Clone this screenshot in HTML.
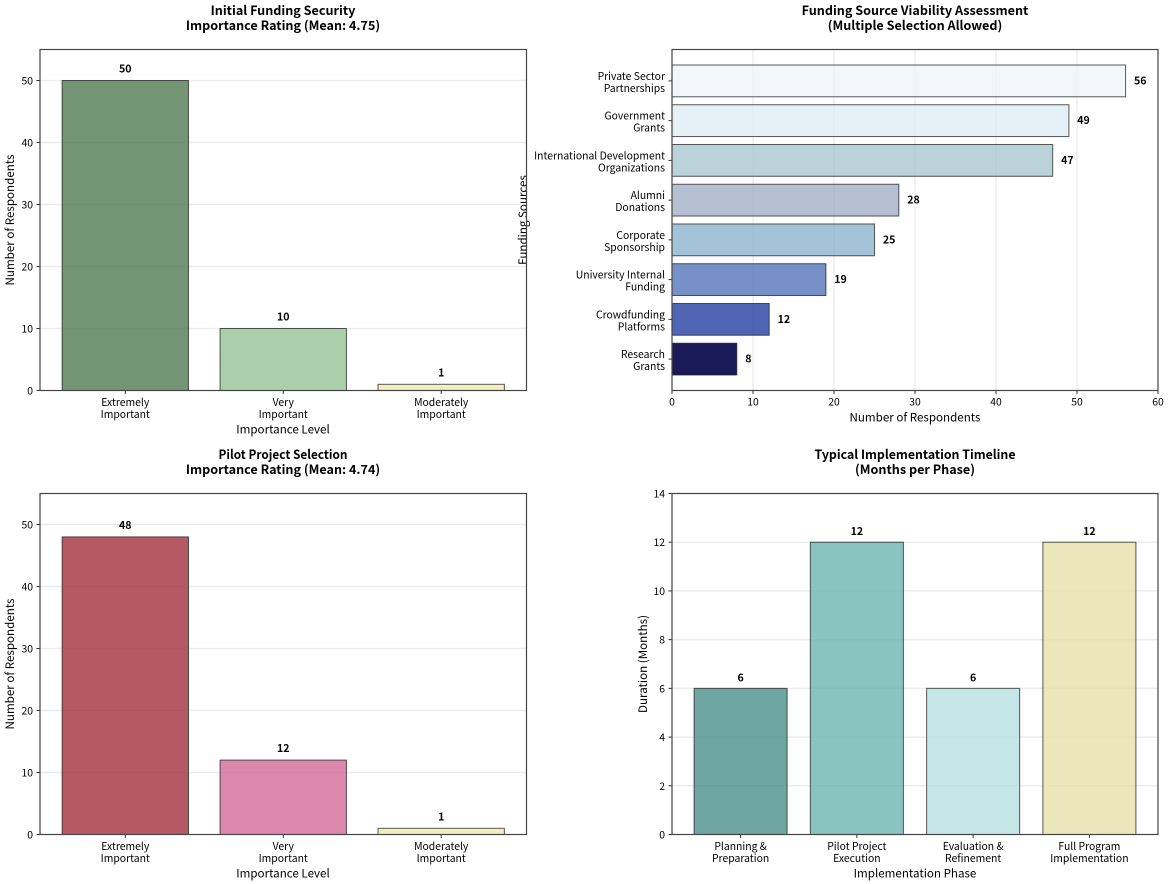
<!DOCTYPE html>
<html>
<head>
<meta charset="utf-8">
<title>Funding and Implementation Survey Charts</title>
<style>
html,body{margin:0;padding:0;background:#fff;}
svg{display:block;}
text{font-family:"Noto Sans CJK JP","Liberation Sans",sans-serif;fill:#000;}
.title{font-size:12.6px;font-weight:700;text-anchor:middle;fill:#000;}
.axis-label{font-size:11.6px;text-anchor:middle;}
.tick{font-size:10.4px;}
.value{font-size:10.6px;font-weight:700;fill:#000;}
</style>
</head>
<body>
<svg id="fig" xmlns="http://www.w3.org/2000/svg" width="1169" height="884" viewBox="0 0 1169 884">
  <g>
    <text class="title" x="283" y="15">Initial Funding Security</text>
    <text class="title" x="283" y="30">Importance Rating (Mean: 4.75)</text>
  </g>
  <g>
    <text class="title" x="915" y="15">Funding Source Viability Assessment</text>
    <text class="title" x="915" y="30">(Multiple Selection Allowed)</text>
  </g>
  <g>
    <text class="title" x="283" y="459" textLength="129" lengthAdjust="spacingAndGlyphs">Pilot Project Selection</text>
    <text class="title" x="283" y="474">Importance Rating (Mean: 4.74)</text>
  </g>
  <g>
    <text class="title" x="915" y="459" textLength="201" lengthAdjust="spacingAndGlyphs">Typical Implementation Timeline</text>
    <text class="title" x="915" y="474">(Months per Phase)</text>
  </g>
  <text class="axis-label" x="283" y="433.5">Importance Level</text>
  <text class="axis-label" transform="translate(14,220) rotate(-90)">Number of Respondents</text>
  <text class="axis-label" x="915" y="421.5">Number of Respondents</text>
  <text class="axis-label" transform="translate(527,220) rotate(-90)">Funding Sources</text>
  <text class="axis-label" x="283" y="877.5">Importance Level</text>
  <text class="axis-label" transform="translate(14,664) rotate(-90)">Number of Respondents</text>
  <text class="axis-label" x="915" y="877.5">Implementation Phase</text>
  <text class="axis-label" transform="translate(647,664) rotate(-90)">Duration (Months)</text>
</svg>
<script>
// ---- chart data ----
const fundingSecurityCategories = ["Extremely\nImportant", "Very\nImportant", "Moderately\nImportant"];
const fundingSecurityValues = [50, 10, 1];
const fundingSecurityTicks = [0, 10, 20, 30, 40, 50];

const fundingSourceCategories = ["Private Sector\nPartnerships", "Government\nGrants", "International Development\nOrganizations", "Alumni\nDonations", "Corporate\nSponsorship", "University Internal\nFunding", "Crowdfunding\nPlatforms", "Research\nGrants"];
const fundingSourceValues = [56, 49, 47, 28, 25, 19, 12, 8];
const fundingSourceTicks = [0, 10, 20, 30, 40, 50, 60];

const pilotProjectCategories = ["Extremely\nImportant", "Very\nImportant", "Moderately\nImportant"];
const pilotProjectValues = [48, 12, 1];
const pilotProjectTicks = [0, 10, 20, 30, 40, 50];

const timelineCategories = ["Planning &\nPreparation", "Pilot Project\nExecution", "Evaluation &\nRefinement", "Full Program\nImplementation"];
const timelineValues = [6, 12, 6, 12];
const timelineTicks = [0, 2, 4, 6, 8, 10, 12, 14];

// ---- bar colours as they appear on screen ----
const fundingSecurityColors = ["#749573", "#abcfa9", "#f2eec0"];
const fundingSourceColors = ["#f1f6fb", "#e6f1f7", "#bad2da", "#b6c0d2", "#a3c4d8", "#7790c8", "#5066b4", "#1b1b59"];
const pilotProjectColors = ["#b55a62", "#dc87ae", "#f2eec0"];
const timelineColors = ["#6fa5a2", "#89c4c1", "#c5e6e7", "#ece6bb"];

const NS = "http://www.w3.org/2000/svg";
const fig = document.getElementById("fig");

function make(tag, attrs, parent) {
  const el = document.createElementNS(NS, tag);
  for (const k in attrs) el.setAttribute(k, attrs[k]);
  parent.appendChild(el);
  return el;
}

// Bars are translucent so gridlines show through; recover the base colour
// that gives the on-screen colour at 80% over white.
function paintBar(el, hex) {
  const ch = [1, 3, 5].map(function (p) { return parseInt(hex.substr(p, 2), 16); });
  if (Math.min.apply(null, ch) < 51) {
    el.setAttribute("fill", hex);
    return;
  }
  const base = ch.map(function (c) { return Math.round((c - 51) / 0.8); });
  el.setAttribute("fill", "rgb(" + base.join(",") + ")");
  el.setAttribute("fill-opacity", 0.8);
}

function tickLine(parent, x1, y1, x2, y2, name) {
  const el = make("line", {x1: x1, y1: y1, x2: x2, y2: y2, stroke: "#333", "stroke-width": 1}, parent);
  
  
}

function multiline(parent, str, x, firstBaseline, anchor, name) {
  const el = make("text", {"class": "tick", "text-anchor": anchor}, parent);
  
  
  str.split("\n").forEach(function (line, i) {
    const span = make("tspan", {x: x, y: firstBaseline + i * 12}, el);
    span.textContent = line;
  });
}

function slug(str) {
  return str.toLowerCase().replace(/[^a-z0-9]+/g, "-").replace(/-$/, "");
}

function drawFrame(g, box, name) {
  const frame = make("rect", {x: box.left, y: box.top, width: box.right - box.left, height: box.bottom - box.top, fill: "none", stroke: "#444", "stroke-width": 1.2}, g);
  
  
}

function drawVertical(name, box, categories, values, ticks, colors, yMax, xPad, labelGap) {
  const g = make("g", {}, fig);
  
  
  const n = categories.length;
  const span = (n - 1) + 0.8 + xPad * 2;
  const xMin = -0.4 - xPad;
  const sx = function (v) { return box.left + (v - xMin) / span * (box.right - box.left); };
  const sy = function (v) { return box.bottom - v / yMax * (box.bottom - box.top); };

  ticks.forEach(function (t) {
    if (t > 0) {
      const grid = make("line", {x1: box.left, x2: box.right, y1: sy(t), y2: sy(t), stroke: "#b0b0b0", "stroke-opacity": 0.24, "stroke-width": 1.5}, g);
      
      
    }
    tickLine(g, box.left - 3.5, sy(t), box.left, sy(t), name + '-y-tick-mark-' + t);
    const lab = make("text", {"class": "tick", x: box.left - 7, y: sy(t) + 4, "text-anchor": "end"}, g);
    lab.textContent = t;
    
    
  });

  categories.forEach(function (c, i) {
    const key = slug(c);
    const left = sx(i - 0.4), right = sx(i + 0.4);
    const bar = make("rect", {x: left, y: sy(values[i]), width: right - left, height: box.bottom - sy(values[i]), stroke: "#222", "stroke-opacity": 0.75, "stroke-width": 1}, g);
    paintBar(bar, colors[i]);
    
    
    tickLine(g, sx(i), box.bottom, sx(i), box.bottom + 3.5, name + '-x-tick-mark-' + key);
    multiline(g, c, sx(i), box.bottom + 15.5, "middle", name + '-x-tick-label-' + key);
    const val = make("text", {"class": "value", x: sx(i), y: sy(values[i]) - labelGap + 4, "text-anchor": "middle"}, g);
    val.textContent = values[i];
    
    
  });
  drawFrame(g, box, name);
}

function drawHorizontal(name, box, categories, values, ticks, colors, xMax) {
  const g = make("g", {}, fig);
  
  
  const n = categories.length;
  const span = (n - 1) + 0.8 + 2 * 0.05 * ((n - 1) + 0.8);
  const yMin = -0.4 - 0.05 * ((n - 1) + 0.8);
  const sx = function (v) { return box.left + v / xMax * (box.right - box.left); };
  const sy = function (i) { return box.top + (i - yMin) / span * (box.bottom - box.top); };

  ticks.forEach(function (t) {
    if (t > 0 && t < xMax) {
      const grid = make("line", {x1: sx(t), x2: sx(t), y1: box.top, y2: box.bottom, stroke: "#b0b0b0", "stroke-opacity": 0.24, "stroke-width": 1.5}, g);
      
      
    }
    tickLine(g, sx(t), box.bottom, sx(t), box.bottom + 3.5, name + '-x-tick-mark-' + t);
    const lab = make("text", {"class": "tick", x: sx(t), y: box.bottom + 15, "text-anchor": "middle"}, g);
    lab.textContent = t;
    
    
  });

  categories.forEach(function (c, i) {
    const key = slug(c);
    const top = sy(i - 0.4), bottom = sy(i + 0.4);
    const bar = make("rect", {x: sx(0), y: top, width: sx(values[i]) - sx(0), height: bottom - top, stroke: "#222", "stroke-opacity": 0.75, "stroke-width": 1}, g);
    paintBar(bar, colors[i]);
    
    
    tickLine(g, box.left - 3.5, sy(i), box.left, sy(i), name + '-y-tick-mark-' + key);
    multiline(g, c, box.left - 7, sy(i) - 1, "end", name + '-y-tick-label-' + key);
    const val = make("text", {"class": "value", x: sx(values[i]) + 8.4, y: sy(i) + 3.5, "text-anchor": "start"}, g);
    val.textContent = values[i];
    
    
  });
  drawFrame(g, box, name);
}

drawVertical("funding-security", {left: 40, right: 526.5, top: 49.5, bottom: 390.5}, fundingSecurityCategories, fundingSecurityValues, fundingSecurityTicks, fundingSecurityColors, 55, 0.14, 12);
drawHorizontal("funding-sources", {left: 672, right: 1158, top: 49.5, bottom: 390.5}, fundingSourceCategories, fundingSourceValues, fundingSourceTicks, fundingSourceColors, 60);
drawVertical("pilot-project", {left: 40, right: 526.5, top: 493.5, bottom: 834.5}, pilotProjectCategories, pilotProjectValues, pilotProjectTicks, pilotProjectColors, 55, 0.14, 12);
drawVertical("timeline", {left: 672, right: 1158, top: 493.5, bottom: 834.5}, timelineCategories, timelineValues, timelineTicks, timelineColors, 14, 0.19, 11);
</script>
</body>
</html>
